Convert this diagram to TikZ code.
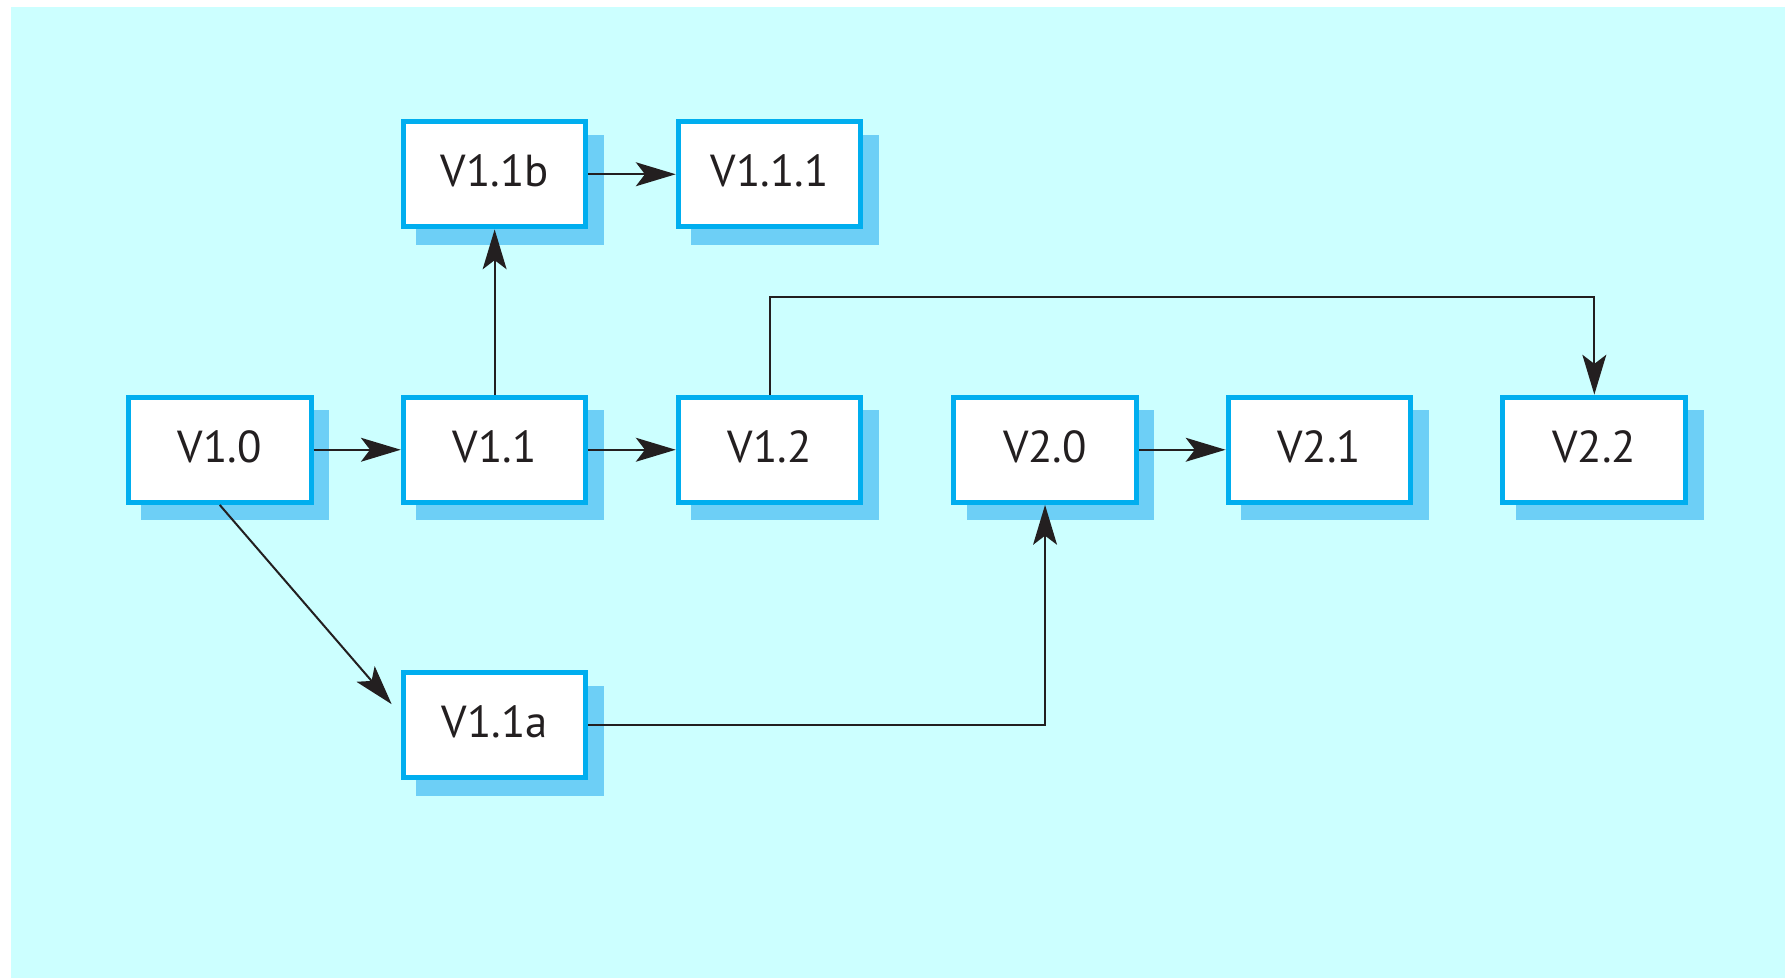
\documentclass[tikz,border=0pt]{standalone}
\usepackage{fontspec}
\setmainfont{PT Sans}
\usetikzlibrary{arrows.meta,shadows}
\definecolor{bgcyan}{HTML}{CCFFFF}
\definecolor{boxblue}{HTML}{00AEEF}
\definecolor{shadowblue}{HTML}{6DCFF6}
\definecolor{inkgrey}{HTML}{231F20}
\tikzset{
  version/.style={draw=boxblue, line width=1.25pt, fill=white, inner sep=0pt,
    minimum width=1.605cm, minimum height=0.925cm, text=inkgrey, text depth=0.06cm,
    font=\fontsize{11.2}{13}\selectfont,
    drop shadow={shadow xshift=0.136cm, shadow yshift=-0.136cm, fill=shadowblue,
      draw=shadowblue, opacity=1}},
  link/.style={draw=inkgrey, line width=0.5pt, -{Stealth[length=3.5mm,width=2.1mm,inset=0.8mm]}}
}

\begin{document}
\begin{tikzpicture}
\useasboundingbox (0, 0) rectangle (15.68, 8.591) ;
\fill[bgcyan] (0.10, 0) rectangle (15.68, 8.53) ; % Frame.back
\node[version] (v10) at (1.93, 4.64) {V1.0} ; % Version.v10
\node[version] (v11) at (4.345, 4.64) {V1.1} ; % Version.v11
\node[version] (v12) at (6.76, 4.64) {V1.2} ; % Version.v12
\node[version] (v20) at (9.18, 4.64) {V2.0} ; % Version.v20
\node[version] (v21) at (11.59, 4.64) {V2.1} ; % Version.v21
\node[version] (v22) at (14.005, 4.64) {V2.2} ; % Version.v22
\node[version] (v11b) at (4.345, 7.06) {V1.1b} ; % Version.v11b
\node[version] (v111) at (6.76, 7.06) {V1.1.1} ; % Version.v111
\node[version] (v11a) at (4.345, 2.22) {V1.1a} ; % Version.v11a
\draw[link] (v10) -- (v11) ; % Derive.v10v11
\draw[link] (v11) -- (v12) ; % Derive.v11v12
\draw[link] (v20) -- (v21) ; % Derive.v20v21
\draw[link] (v11b) -- (v111) ; % Derive.v11bv111
\draw[link] (v11) -- (v11b) ; % Derive.v11v11b
\draw[link] (v12.north) -- ++(0, 0.855) -| (v22.north) ; % Derive.v12v22
\draw[link] (v11a.east) -| (v20.south) ; % Derive.v11av20
\draw[link] (v10.south) -- ([xshift=-0.08cm, yshift=0.185cm]v11a.west) ; % Derive.v10v11a
\end{tikzpicture}
\end{document}
